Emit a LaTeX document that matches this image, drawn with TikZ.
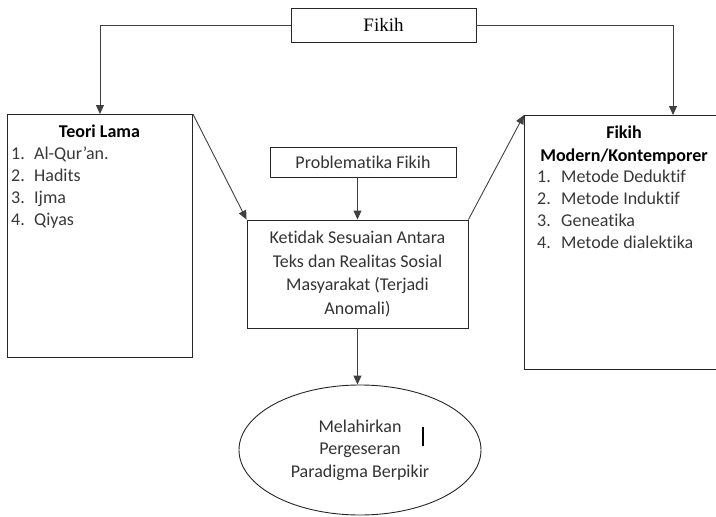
\documentclass[tikz,border=0pt]{standalone}
\usepackage{fontspec}
\setmainfont{Carlito}[Ligatures=NoCommon]
\newfontfamily\timesfont{Liberation Serif}
\usepackage{tikz}
\usetikzlibrary{shapes.geometric}
\usetikzlibrary{arrows.meta}

\begin{document}
\begin{tikzpicture}[
			x=1pt, y=-1pt,
			kotak/.style={
				draw=black!85,
				line width=0.9pt,
				inner sep=0pt,
			},
			butir/.style={
				font=\fontsize{18}{22}\selectfont,
				text=black!78,
				anchor=base west,
				inner sep=0pt,
			},
			judul/.style={
				font=\fontsize{18}{22}\selectfont\bfseries,
				anchor=base,
				inner sep=0pt,
			},
			panah/.style={
				draw=black!75,
				line width=0.9pt,
				-{Triangle[length=9pt,width=8pt]},
			},
			]
			\useasboundingbox (0,0) rectangle (716,517);
			%% kotak utama
			\node[kotak, minimum width=185, minimum height=34,
				font=\timesfont\fontsize{19}{22}\selectfont] (fikih) at (383.5,25) {Fikih};
			\node[kotak, minimum width=185, minimum height=243, anchor=north west] (lama) at (7,114) {};
			\node[kotak, minimum width=200, minimum height=254, anchor=north west] (modern) at (524,115) {};
			\node[kotak, minimum width=186, minimum height=30,
				font=\fontsize{18}{22}\selectfont, text=black!80] (problem) at (363,162) {Problematika Fikih};
			\node[kotak, minimum width=221, minimum height=108, align=center,
				font=\fontsize{18}{23.6}\selectfont, text=black!80] (anomali) at (357.5,274)
				{Ketidak Sesuaian Antara\\Teks dan Realitas Sosial\\Masyarakat (Terjadi\\Anomali)};
			\node[kotak, ellipse, minimum width=242, minimum height=130, align=center,
				font=\fontsize{18}{22.5}\selectfont, text=black!80] (hasil) at (360,450)
				{Melahirkan\\Pergeseran\\Paradigma Berpikir};
			%% isi kotak
			\node[judul] (judullama) at (99.5,137) {Teori Lama};
			\foreach \teks [count=\i] in {Al-Qur’an., Hadits, Ijma, Qiyas}
				\node[butir] (lama\i) at (11,137+22*\i) {\makebox[23pt][l]{\i.}\teks};
			\node[judul] (judulmodern) at (624,138) {Fikih};
			\node[judul] (judulmodern2) at (624,161) {Modern/Kontemporer};
			\foreach \teks [count=\i] in {Metode Deduktif, Metode Induktif, Geneatika, Metode dialektika}
				\node[butir] (modern\i) at (537,160+22*\i) {\makebox[24pt][l]{\i.}\teks};
			\coordinate (masuk) at (673,115);
			%% garis
			\draw[panah] (fikih.west) -| (lama.north);
			\draw[panah] (fikih.east) -| (masuk);
			\draw[panah] (lama.north east) -- (anomali.north west);
			\draw[panah] (anomali.north east) -- (modern.north west);
			\draw[panah] (anomali.north |- problem.south) -- (anomali.north);
			\draw[panah] (anomali.south) -- (anomali.south |- hasil.north);
			\draw[line width=1.2pt] (423,427) -- (423,446);
		\end{tikzpicture}
\end{document}
